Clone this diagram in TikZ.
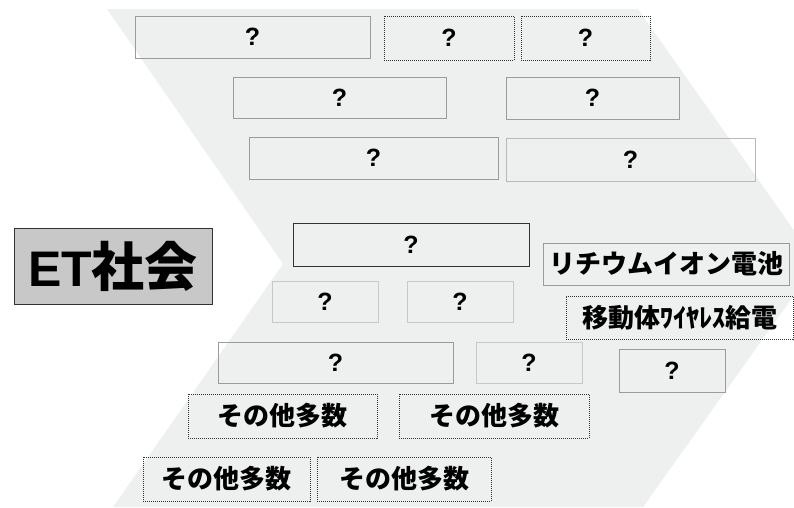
\documentclass[tikz,border=0pt]{standalone}
\usepackage{fontspec}
\setmainfont{Liberation Sans}
\newfontfamily\jp{Noto Sans CJK JP}
\definecolor{bgc}{RGB}{238,239,239}
\definecolor{etfill}{RGB}{200,200,200}
\definecolor{bmid}{RGB}{155,155,155}
\definecolor{blight}{RGB}{200,200,200}
\definecolor{bdark}{RGB}{50,50,50}
\tikzset{
  box/.style={draw=bmid, line width=0.9pt, inner sep=0pt, font=\bfseries\fontsize{25}{25}\selectfont},
  lbox/.style={box, draw=blight},
  dbox/.style={box, draw=bdark, line width=1pt},
  dotbox/.style={box, draw=bdark, line width=0.9pt, dash pattern=on 1pt off 1pt},
  jtext/.style={font=\jp\bfseries\fontsize{26}{26}\selectfont}
}
\begin{document}
\begin{tikzpicture}[x=1pt,y=-1pt]
\useasboundingbox (0,0) rectangle (794,507);
\clip (0,0) rectangle (794,507);
\fill[bgc] (107,9) -- (638,9) -- (817,263) -- (643,507) -- (113,507) -- (283,264) -- cycle;
% row 1
\node[box, minimum width=235, minimum height=42] (a) at (252.5,37) {?};
\node[dotbox, minimum width=130, minimum height=44] (b) at (449,38) {?};
\node[dotbox, minimum width=129, minimum height=44] (c) at (585.5,38) {?};
% row 2
\node[box, minimum width=213, minimum height=41] (d) at (339.5,97.5) {?};
\node[box, minimum width=173, minimum height=42] (e) at (592.5,98) {?};
% row 3
\node[box, minimum width=249, minimum height=42] (f) at (373.5,158) {?};
\node[lbox, draw=bmid!70!white, minimum width=249, minimum height=43] (g) at (630.5,159.5) {?};
% row 4
\node[dbox, minimum width=236, minimum height=43] (h) at (411,244.5) {?};
\node[box, jtext, minimum width=246, minimum height=42] (li) at (666,264) {リチウムイオン電池};
\node[dotbox, jtext, minimum width=227, minimum height=43] (mo) at (679.5,317.5) {移動体ﾜｲﾔﾚｽ給電};
% row 5
\node[lbox, minimum width=106, minimum height=41] (i) at (325,301.5) {?};
\node[lbox, minimum width=106, minimum height=41] (j) at (460,301.5) {?};
% row 6
\node[box, minimum width=235, minimum height=41] (k) at (335.5,362.5) {?};
\node[lbox, minimum width=106, minimum height=41] (l) at (529,362.5) {?};
\node[box, minimum width=106, minimum height=43] (m) at (672,370.5) {?};
% row 7
\node[dotbox, jtext, minimum width=189, minimum height=44] (n) at (282.5,416) {その他多数};
\node[dotbox, jtext, minimum width=190, minimum height=44] (o) at (494,416) {その他多数};
% row 8
\node[dotbox, jtext, minimum width=167, minimum height=44] (p) at (226.5,479) {その他多数};
\node[dotbox, jtext, minimum width=174, minimum height=44] (q) at (404,479) {その他多数};
% ET
\node[draw=bdark, fill=etfill, line width=1pt, inner sep=0pt, minimum width=198, minimum height=76] (et) at (113,266)
  {\bfseries\fontsize{50}{50}\selectfont ET{\jp\fontsize{53}{53}\selectfont 社会}};
\end{tikzpicture}
\end{document}
